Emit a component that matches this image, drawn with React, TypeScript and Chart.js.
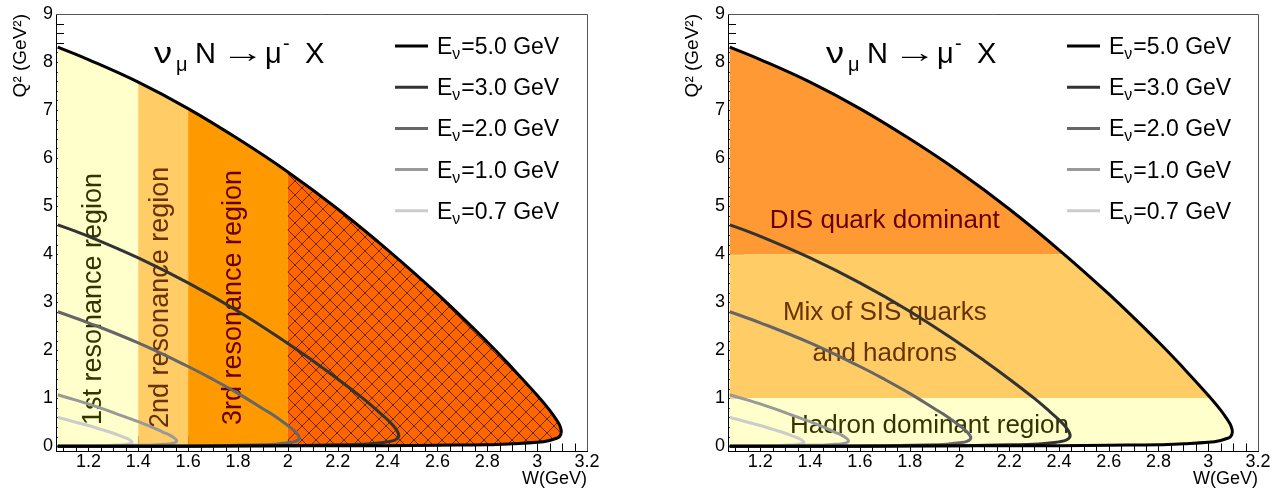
import React, { useEffect, useRef } from 'react';
import { Chart, registerables } from 'chart.js';

Chart.register(...registerables);

const FONT = '"Liberation Sans", Arial, Helvetica, sans-serif';

// ---- data -----------------------------------------------------------
const energies = ['5.0', '3.0', '2.0', '1.0', '0.7'];
const curveColors = ['#000000', '#333333', '#666666', '#999999', '#cccccc'];

// kinematic boundaries: W (GeV) and Q^2 (GeV^2), upper branch then lower branch
const W_E50 = [1.077, 1.2, 1.4, 1.6, 1.8, 2.0, 2.2, 2.4, 2.6, 2.8, 2.9, 3.0, 3.05, 3.08, 3.09, 3.097, 3.09, 3.08, 3.05, 3.0, 2.9, 2.8, 2.6, 2.4, 2.2, 2.0, 1.6, 1.2, 1.077];
const Q2_E50 = [8.31, 8.05, 7.58, 7.03, 6.40, 5.71, 4.94, 4.09, 3.17, 2.17, 1.63, 1.06, 0.75, 0.53, 0.44, 0.30, 0.20, 0.17, 0.12, 0.08, 0.05, 0.03, 0.02, 0.01, 0.01, 0.01, 0.0, 0.0, 0.0];

const W_E30 = [1.077, 1.2, 1.4, 1.6, 1.8, 2.0, 2.1, 2.2, 2.3, 2.35, 2.4, 2.43, 2.445, 2.43, 2.4, 2.35, 2.3, 2.2, 2.1, 2.0, 1.8, 1.6, 1.4, 1.2, 1.077];
const Q2_E30 = [4.61, 4.37, 3.92, 3.40, 2.81, 2.14, 1.78, 1.40, 1.00, 0.78, 0.55, 0.38, 0.22, 0.13, 0.09, 0.06, 0.04, 0.03, 0.02, 0.01, 0.01, 0.0, 0.0, 0.0, 0.0];

const W_E20 = [1.077, 1.2, 1.4, 1.6, 1.7, 1.8, 1.9, 1.95, 2.0, 2.03, 2.046, 2.03, 2.0, 1.95, 1.9, 1.8, 1.7, 1.6, 1.4, 1.2, 1.077];
const Q2_E20 = [2.80, 2.57, 2.15, 1.66, 1.39, 1.10, 0.78, 0.62, 0.43, 0.30, 0.17, 0.10, 0.07, 0.04, 0.03, 0.02, 0.01, 0.01, 0.0, 0.0, 0.0];

const W_E10 = [1.077, 1.15, 1.2, 1.3, 1.4, 1.45, 1.5, 1.53, 1.554, 1.53, 1.5, 1.45, 1.4, 1.3, 1.2, 1.077];
const Q2_E10 = [1.07, 0.96, 0.88, 0.70, 0.51, 0.41, 0.29, 0.22, 0.11, 0.05, 0.04, 0.02, 0.02, 0.01, 0.0, 0.0];

const W_E07 = [1.077, 1.15, 1.2, 1.25, 1.3, 1.34, 1.36, 1.375, 1.36, 1.34, 1.3, 1.25, 1.2, 1.077];
const Q2_E07 = [0.60, 0.50, 0.43, 0.35, 0.27, 0.19, 0.15, 0.08, 0.045, 0.03, 0.02, 0.01, 0.01, 0.0];

const curveW = [W_E50, W_E30, W_E20, W_E10, W_E07];
const curveQ2 = [Q2_E50, Q2_E30, Q2_E20, Q2_E10, Q2_E07];

const xTicks = [1.2, 1.4, 1.6, 1.8, 2.0, 2.2, 2.4, 2.6, 2.8, 3.0, 3.2];
const yTicks = [0, 1, 2, 3, 4, 5, 6, 7, 8, 9];

// region boundaries
const resonanceEdges = [1.4, 1.6, 2.0]; // W
const resonanceColors = ['#ffffcc', '#ffcc66', '#ff9900', '#ff6600'];
const q2Edges = [4, 1]; // Q^2
const q2Colors = ['#ff9933', '#ffcc66', '#ffffcc'];
const hatchColor = '#6a2c08';

const leftLabels = ['1st resonance region', '2nd resonance region', '3rd resonance region'];
const leftLabelColors = ['#333300', '#663300', '#660000'];
const leftLabelW = [1.222, 1.491, 1.784];
const leftLabelQ2 = [0.44, 0.38, 0.44];

const rightLabels = ['DIS quark dominant', 'Mix of SIS quarks', 'and hadrons', 'Hadron dominant region'];
const rightLabelColors = ['#660000', '#663300', '#663300', '#333300'];
const rightLabelW = [1.70, 1.70, 1.70, 1.88];
const rightLabelQ2 = [4.55, 2.635, 1.78, 0.28];

// ---- helpers --------------------------------------------------------
function regionPaint(chart: any, side: string) {
  const area = chart.chartArea;
  if (!area || !chart.scales || !chart.scales.x) return 'rgba(0,0,0,0)';
  const { x, y } = chart.scales;
  const c = document.createElement('canvas');
  c.width = chart.width;
  c.height = chart.height;
  const g = c.getContext('2d')!;
  if (side === 'left') {
    const edges = [0, ...resonanceEdges.map((v) => x.getPixelForValue(v)), c.width];
    for (let i = 0; i < resonanceColors.length; i++) {
      g.fillStyle = resonanceColors[i];
      g.fillRect(edges[i], 0, edges[i + 1] - edges[i], c.height);
    }
    g.save();
    g.beginPath();
    g.rect(edges[3], 0, edges[4] - edges[3], c.height);
    g.clip();
    g.strokeStyle = hatchColor;
    g.lineWidth = 1;
    const H = c.height;
    for (let k = -H; k < c.width + H; k += 14) {
      g.beginPath();
      g.moveTo(k, 0);
      g.lineTo(k + H, H);
      g.stroke();
      g.beginPath();
      g.moveTo(k, H);
      g.lineTo(k + H, 0);
      g.stroke();
    }
    g.restore();
  } else {
    const edges = [0, ...q2Edges.map((v) => y.getPixelForValue(v)), c.height];
    for (let i = 0; i < q2Colors.length; i++) {
      g.fillStyle = q2Colors[i];
      g.fillRect(0, edges[i], c.width, edges[i + 1] - edges[i]);
    }
  }
  return chart.ctx.createPattern(c, 'no-repeat');
}

const ticksPlugin = {
  id: 'rootTicks',
  beforeDatasetsDraw(chart: any) {
    const { ctx, chartArea: a, scales } = chart;
    const x = scales.x;
    const y = scales.y;
    ctx.save();
    ctx.strokeStyle = '#000';
    ctx.lineWidth = 1;
    for (let i = 0; i <= 45; i++) {
      const v = i * 0.2;
      const py = Math.round(y.getPixelForValue(v)) + 0.5;
      const len = i % 5 === 0 ? 16 : 8;
      ctx.beginPath();
      ctx.moveTo(a.left, py);
      ctx.lineTo(a.left + len, py);
      ctx.stroke();
    }
    for (let i = 22; i <= 64; i++) {
      const v = i * 0.05;
      const px = Math.round(x.getPixelForValue(v)) + 0.5;
      const len = i % 4 === 0 ? 15 : 7.5;
      ctx.beginPath();
      ctx.moveTo(px, a.bottom);
      ctx.lineTo(px, a.bottom - len);
      ctx.stroke();
    }
    ctx.strokeStyle = '#555';
    ctx.beginPath();
    ctx.moveTo(a.left, Math.round(a.top) + 0.5);
    ctx.lineTo(Math.round(a.right) + 0.5, Math.round(a.top) + 0.5);
    ctx.lineTo(Math.round(a.right) + 0.5, a.bottom);
    ctx.stroke();
    ctx.restore();
  },
};

function makeRegionTextPlugin(side: string, fillIndex: number) {
  return {
    id: 'regionText',
    afterDatasetDraw(chart: any, args: any) {
      if (args.index !== fillIndex) return;
      const { ctx, scales } = chart;
      const x = scales.x;
      const y = scales.y;
      ctx.save();
      ctx.font = `27px ${FONT}`;
      if (side === 'left') {
        leftLabels.forEach((t, i) => {
          ctx.save();
          ctx.translate(x.getPixelForValue(leftLabelW[i]), y.getPixelForValue(leftLabelQ2[i]));
          ctx.rotate(-Math.PI / 2);
          ctx.fillStyle = leftLabelColors[i];
          ctx.textAlign = 'left';
          ctx.textBaseline = 'middle';
          ctx.fillText(t, 0, 0);
          ctx.restore();
        });
      } else {
        ctx.font = `26px ${FONT}`;
        rightLabels.forEach((t, i) => {
          ctx.fillStyle = rightLabelColors[i];
          ctx.textAlign = 'center';
          ctx.textBaseline = 'alphabetic';
          ctx.fillText(t, x.getPixelForValue(rightLabelW[i]), y.getPixelForValue(rightLabelQ2[i]));
        });
      }
      ctx.restore();
    },
  };
}

function drawScaled(ctx: any, text: string, x: number, y: number, sx: number) {
  ctx.save();
  ctx.translate(x, y);
  ctx.scale(sx, 1);
  ctx.fillText(text, 0, 0);
  ctx.restore();
}

const overlayPlugin = {
  id: 'overlay',
  afterDraw(chart: any) {
    const { ctx, chartArea: a } = chart;
    ctx.save();
    ctx.fillStyle = '#000';
    ctx.textBaseline = 'alphabetic';
    ctx.textAlign = 'left';
    // title: nu_mu N -> mu^- X
    const base = a.top + 49;
    const big = `29px ${FONT}`;
    const small = `20px ${FONT}`;
    ctx.font = big;
    drawScaled(ctx, '\u03bd', a.left + 98, base, 1.25);
    ctx.font = small;
    ctx.fillText('\u03bc', a.left + 120, base + 8);
    ctx.font = big;
    ctx.fillText('N', a.left + 139, base);
    drawScaled(ctx, '\u2192', a.left + 165, base - 1, 1.5);
    ctx.fillText('\u03bc', a.left + 209, base);
    ctx.font = small;
    ctx.fillText('-', a.left + 227, base - 13);
    ctx.font = big;
    ctx.fillText('X', a.left + 249, base);

    // legend
    chart.data.datasets.forEach((ds: any, i: number) => {
      if (i >= energies.length) return;
      const yy = a.top + 32 + i * 41.2;
      ctx.strokeStyle = ds.borderColor;
      ctx.lineWidth = 3;
      ctx.beginPath();
      ctx.moveTo(a.left + 339, yy);
      ctx.lineTo(a.left + 372, yy);
      ctx.stroke();
      let tx = a.left + 381;
      const bl = yy + 8;
      ctx.fillStyle = '#000';
      ctx.font = `23px ${FONT}`;
      ctx.fillText('E', tx, bl);
      tx += ctx.measureText('E').width;
      ctx.font = `16px ${FONT}`;
      ctx.fillText('\u03bd', tx, bl + 5);
      tx += ctx.measureText('\u03bd').width + 1;
      ctx.font = `23px ${FONT}`;
      ctx.fillText(`=${energies[i]} GeV`, tx, bl);
    });
    ctx.restore();
  },
};

function makeConfig(side: string): any {
  const datasets: any[] = curveW.map((ws, i) => ({
    label: `E_nu=${energies[i]} GeV`,
    data: ws.map((w, j) => ({ x: w, y: curveQ2[i][j] })),
    borderColor: curveColors[i],
    borderWidth: 3,
    fill: false,
    tension: 0.4,
    pointRadius: 0,
    order: i,
  }));
  datasets.push({
    label: 'regions',
    data: W_E50.map((w, j) => ({ x: w, y: Q2_E50[j] })),
    fill: 'shape',
    backgroundColor: (c: any) => regionPaint(c.chart, side),
    borderColor: 'rgba(0,0,0,0)',
    borderWidth: 0,
    tension: 0.4,
    pointRadius: 0,
    order: 10,
  });
  const fillIndex = datasets.length - 1;
  const isLeft = side === 'left';
  return {
    type: 'line',
    data: { datasets },
    options: {
      animation: false,
      responsive: false,
      devicePixelRatio: 1,
      layout: { padding: { top: 14, right: isLeft ? 51 : 19, left: 0, bottom: 0 } },
      plugins: { legend: { display: false }, tooltip: { enabled: false } },
      elements: { point: { radius: 0 } },
      scales: {
        x: {
          type: 'linear',
          min: 1.07,
          max: 3.2,
          afterBuildTicks: (s: any) => {
            s.ticks = xTicks.map((v) => ({ value: v }));
          },
          afterFit: (s: any) => {
            s.height = 37;
          },
          grid: { display: false, drawTicks: false },
          border: { display: true, color: '#000', width: 1 },
          ticks: {
            color: '#000',
            font: { family: FONT, size: 18 },
            padding: 0,
            maxRotation: 0,
            autoSkip: false,
            callback: (v: any) => String(Math.round(v * 10) / 10),
          },
          title: {
            display: true,
            text: 'W(GeV)',
            align: 'end',
            color: '#000',
            font: { family: FONT, size: 18, lineHeight: 1 },
            padding: 0,
          },
        },
        y: {
          type: 'linear',
          min: -0.1,
          max: 9,
          afterBuildTicks: (s: any) => {
            s.ticks = yTicks.map((v) => ({ value: v }));
          },
          afterFit: (s: any) => {
            s.width = isLeft ? 56 : 88;
          },
          grid: { display: false, drawTicks: false },
          border: { display: true, color: '#000', width: 1 },
          ticks: {
            color: '#000',
            font: { family: FONT, size: 18 },
            padding: 3,
            autoSkip: false,
            callback: (v: any) => String(v),
          },
          title: {
            display: true,
            text: 'Q\u00b2 (GeV\u00b2)',
            align: 'end',
            color: '#000',
            font: { family: FONT, size: 19, lineHeight: 1.2 },
            padding: { top: isLeft ? 9 : 41, bottom: 0 },
          },
        },
      },
    },
    plugins: [ticksPlugin, makeRegionTextPlugin(side, fillIndex), overlayPlugin],
  };
}

function Panel({ side, left, width }: { side: string; left: number; width: number }) {
  const ref = useRef<HTMLCanvasElement>(null);
  useEffect(() => {
    const chart = new Chart(ref.current as HTMLCanvasElement, makeConfig(side));
    return () => chart.destroy();
  }, [side]);
  return (
    <canvas
      ref={ref}
      width={width}
      height={488}
      style={{ position: 'absolute', left, top: 0, width, height: 488, display: 'block' }}
    />
  );
}

export default function App() {
  return (
    <div style={{ position: 'fixed', left: 0, top: 0, width: 1277, height: 488, background: '#fff', overflow: 'hidden' }}>
      <Panel side="left" left={0} width={638} />
      <Panel side="right" left={640} width={637} />
    </div>
  );
}
